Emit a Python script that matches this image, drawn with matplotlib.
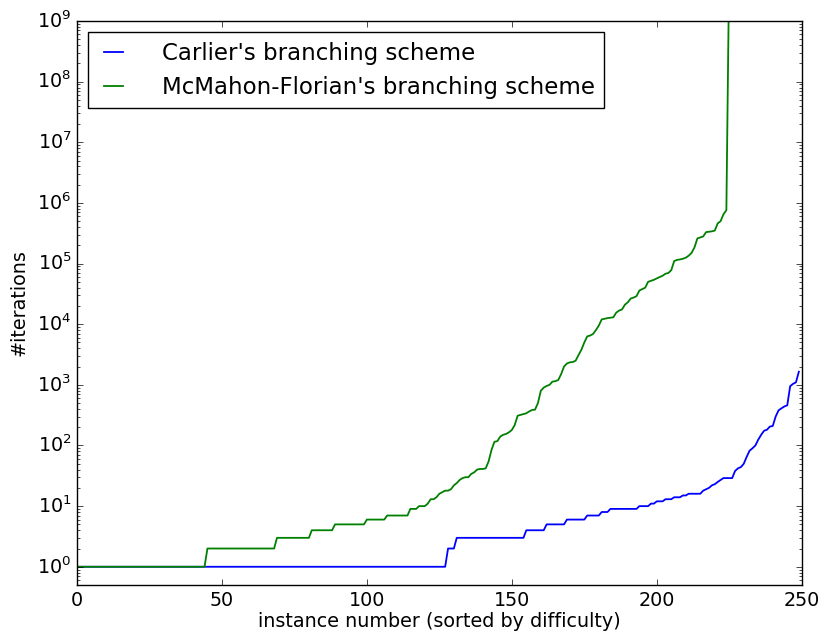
import numpy as np
import matplotlib
matplotlib.use('Agg')
import matplotlib.pyplot as plt

# iterations per instance, instances sorted by difficulty
# flat part stored as (value, count) runs, the rest value by value
carlier_run_values = [1, 2, 3, 4, 5, 6, 7, 8, 9, 10, 11, 12, 13, 14, 15, 16]
carlier_run_counts = [128, 3, 24, 7, 7, 7, 5, 3, 10, 4, 2, 3, 3, 3, 2, 5]
carlier_tail = [18, 19, 20, 22, 23, 25, 27, 29, 29, 29, 29, 38, 42, 44, 50, 65,
                82, 90, 100, 125, 150, 175, 182, 205, 210, 300, 380, 410, 440,
                460, 950, 1040, 1100, 1650]

mcmahon_run_values = [1, 2, 3, 4, 5, 6, 7, 9, 10]
mcmahon_run_counts = [45, 24, 12, 8, 11, 7, 8, 3, 3]
mcmahon_tail = [11, 13, 13, 14, 16, 17, 18, 18, 19, 22, 24, 27, 29, 30, 30, 34,
                36, 40, 41, 41, 42, 55, 85, 115, 118, 140, 150, 155, 165, 180,
                218, 310, 320, 330, 340, 365, 385, 390, 500, 800, 900, 960,
                1000, 1130, 1150, 1200, 1500, 2000, 2250, 2350, 2380, 2500,
                3100, 3800, 5000, 6300, 6500, 6900, 8000, 9500, 12000, 12300,
                12600, 12800, 13000, 15500, 16800, 17500, 21000, 23000, 26500,
                27500, 29000, 36000, 38000, 40000, 50000, 52000, 54000, 57000,
                60000, 63000, 68000, 70000, 78000, 110000, 115000, 117000,
                120000, 125000, 135000, 150000, 185000, 260000, 270000, 280000,
                330000, 335000, 340000, 350000, 460000, 500000, 650000, 760000,
                1e10]

carlier = np.concatenate([np.repeat(carlier_run_values, carlier_run_counts), carlier_tail])
mcmahon = np.concatenate([np.repeat(mcmahon_run_values, mcmahon_run_counts), mcmahon_tail])

plt.style.use('classic')
plt.rcParams['font.size'] = 13.8

fig = plt.figure(figsize=(8.24, 6.37), dpi=100, facecolor='white')
ax = fig.add_axes([0.0934, 0.0816, 0.8796, 0.8854])

ax.semilogy(np.arange(len(carlier)), carlier, 'b-', lw=1.3, label="Carlier's branching scheme")
ax.semilogy(np.arange(len(mcmahon)), mcmahon, 'g-', lw=1.3, label="McMahon-Florian's branching scheme")

ax.set_xlim(0, 250)
ax.set_ylim(0.5, 1e9)
ax.set_xlabel('instance number (sorted by difficulty)', labelpad=2)
ax.set_ylabel('#iterations', labelpad=6)
ax.legend(loc='upper left', fontsize=16.5, handlelength=1.4, handletextpad=1.4)

fig.savefig('out.png', dpi=100, facecolor='white')
